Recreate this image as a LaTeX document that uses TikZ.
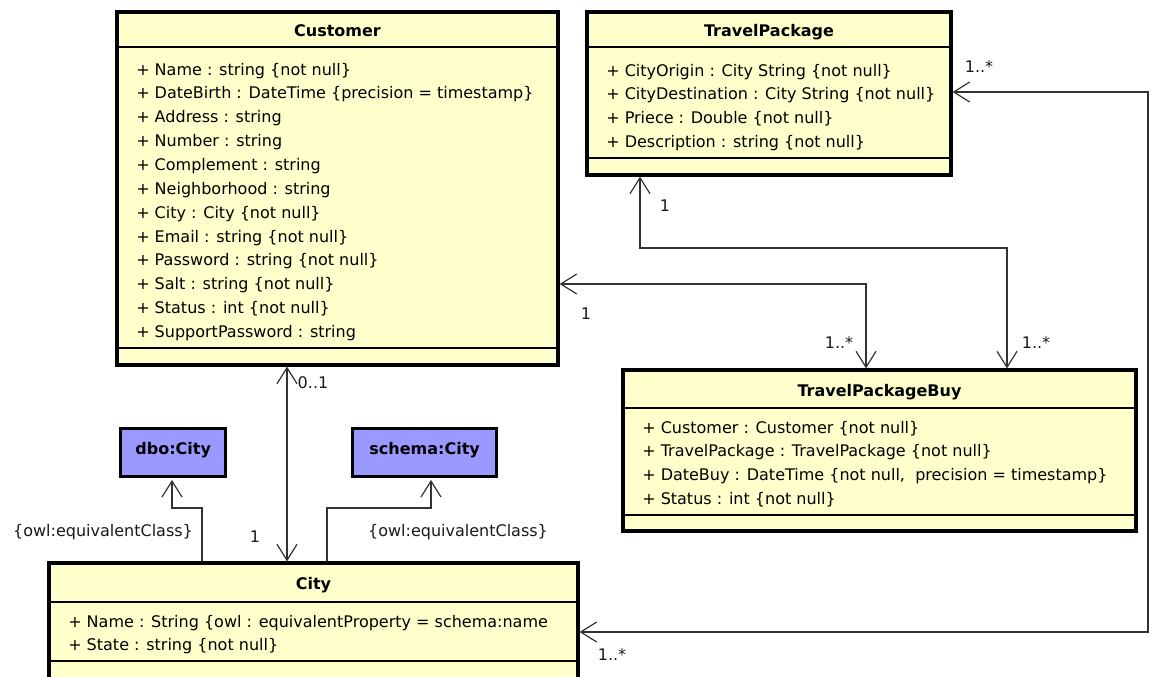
\documentclass[tikz,border=0pt]{standalone}
\usepackage{fontspec}
\setmainfont{DejaVu Sans}
\usetikzlibrary{positioning,arrows.meta}
\definecolor{classfill}{HTML}{FFFFCC}
\definecolor{ontofill}{HTML}{9999FF}
\definecolor{linkgray}{HTML}{333333}

\begin{document}
\begin{tikzpicture}[
    x=0.75pt, y=-0.75pt,
    font=\fontsize{12}{17.9}\selectfont,
    classhead/.style={rectangle, draw=black, line width=0.8pt, fill=classfill, font=\fontsize{12}{14}\selectfont\bfseries, text height=12pt, text depth=1pt, inner sep=0pt, outer sep=0pt, anchor=north west},
    classbody/.style={rectangle, draw=black, line width=0.8pt, fill=classfill, inner sep=0pt, outer sep=0pt},
    attrtext/.style={anchor=north west, align=left, inner sep=0pt, text=black},
    classframe/.style={draw=black, line width=2.5pt},
    ontobox/.style={rectangle, draw=black, line width=2.5pt, fill=ontofill, font=\fontsize{12}{14}\selectfont\bfseries, text height=9pt, text depth=6pt, inner sep=0pt, anchor=north west},
    link/.style={draw=linkgray, line width=0.9pt, shorten <=1.2pt, shorten >=1.2pt, >={Straight Barb[length=12pt, width=15pt]}},
    mult/.style={inner sep=0pt, text=black!90}
]
\useasboundingbox (0,0) rectangle (1155,677);
\clip (0,0) rectangle (1155,677);

% Classes
\node (customer) [classhead, minimum width=330.75pt, minimum height=26.25pt] at (117,12) {Customer};
\node (customer-attr) [classbody, below=0pt of customer, minimum width=330.75pt, minimum height=225.75pt] {};
\node (customer-ops) [classbody, below=0pt of customer-attr, minimum width=330.75pt, minimum height=12.75pt] {};
\node (customer-txt) [attrtext] at (136,62.6) {+ Name : string \{not null\}\\+ DateBirth : DateTime \{precision = timestamp\}\\+ Address : string\\+ Number : string\\+ Complement : string\\+ Neighborhood : string\\+ City : City \{not null\}\\+ Email : string \{not null\}\\+ Password : string \{not null\}\\+ Salt : string \{not null\}\\+ Status : int \{not null\}\\+ SupportPassword : string};
\draw[classframe] (customer.north west) rectangle (customer-ops.south east);

\node (tp) [classhead, minimum width=273pt, minimum height=26.25pt] at (587,12) {TravelPackage};
\node (tp-attr) [classbody, below=0pt of tp, minimum width=273pt, minimum height=83.25pt] {};
\node (tp-ops) [classbody, below=0pt of tp-attr, minimum width=273pt, minimum height=12.75pt] {};
\node (tp-txt) [attrtext] at (606,63.6) {+ CityOrigin : City String \{not null\}\\+ CityDestination : City String \{not null\}\\+ Priece : Double \{not null\}\\+ Description : string \{not null\}};
\draw[classframe] (tp.north west) rectangle (tp-ops.south east);

\node (tpb) [classhead, minimum width=384.75pt, minimum height=28.5pt] at (623,370) {TravelPackageBuy};
\node (tpb-attr) [classbody, below=0pt of tpb, minimum width=384.75pt, minimum height=80.25pt] {};
\node (tpb-ops) [classbody, below=0pt of tpb-attr, minimum width=384.75pt, minimum height=12pt] {};
\node (tpb-txt) [attrtext] at (642,420.6) {+ Customer : Customer \{not null\}\\+ TravelPackage : TravelPackage \{not null\}\\+ DateBuy : DateTime \{not null,\ \ precision = timestamp\}\\+ Status : int \{not null\}};
\draw[classframe] (tpb.north west) rectangle (tpb-ops.south east);

\node (city) [classhead, minimum width=396.75pt, minimum height=29.25pt] at (49,563) {City};
\node (city-attr) [classbody, below=0pt of city, minimum width=396.75pt, minimum height=44.25pt] {};
\node (city-ops) [classbody, below=0pt of city-attr, minimum width=396.75pt, minimum height=18pt] {};
\node (city-txt) [attrtext] at (68,614.6) {+ Name : String \{owl : equivalentProperty = schema:name\\+ State : string \{not null\}};
\draw[classframe] (city.north west) rectangle (city-ops.south east);

\node (dbo) [ontobox, minimum width=78.75pt, minimum height=36pt] at (119,427) {dbo:City};
\node (schema) [ontobox, minimum width=108pt, minimum height=36pt] at (351,427) {schema:City};

% Arrows
\coordinate (cust2city) at (287,470);
\draw[link, <->] (customer-ops.south -| cust2city) -- (city.north -| cust2city);

\coordinate (tp2buy-a) at (640,248);
\coordinate (tp2buy-b) at (1007,248);
\draw[link, <->] (tp-ops.south -| tp2buy-a) -- (tp2buy-a) -- (tp2buy-b) -- (tpb.north -| tp2buy-b);

\coordinate (cust2buy) at (866,284);
\draw[link, <->] (customer-attr.east |- cust2buy) -- (cust2buy) -- (tpb.north -| cust2buy);

\coordinate (tp2city-a) at (1148,92);
\coordinate (tp2city-b) at (1148,632);
\draw[link, <->] (tp-attr.east |- tp2city-a) -- (tp2city-a) -- (tp2city-b) -- (city-attr.east |- tp2city-b);

\coordinate (city2dbo-a) at (202,508);
\coordinate (city2dbo-b) at (172,508);
\draw[link, ->] (city.north -| city2dbo-a) -- (city2dbo-a) -- (city2dbo-b) -- (dbo.south -| city2dbo-b);

\coordinate (city2schema-a) at (327,508);
\coordinate (city2schema-b) at (431,508);
\draw[link, ->] (city.north -| city2schema-a) -- (city2schema-a) -- (city2schema-b) -- (schema.south -| city2schema-b);

% Multiplicities
\node (m-cust-city) [mult] at (313,383) {0..1};
\node (m-city-cust) [mult] at (255,537) {1};
\node (m-tp-buy) [mult] at (665,206) {1};
\node (m-buy-tp) [mult] at (1036,343) {1..*};
\node (m-cust-buy) [mult] at (586,314) {1};
\node (m-buy-cust) [mult] at (839,343) {1..*};
\node (m-city-tp) [mult] at (979,67) {1..*};
\node (m-tp-city) [mult] at (612,655) {1..*};
\node (eq-dbo) [mult] at (103,532) {\{owl:equivalentClass\}};
\node (eq-schema) [mult] at (458,532) {\{owl:equivalentClass\}};

\end{tikzpicture}
\end{document}
